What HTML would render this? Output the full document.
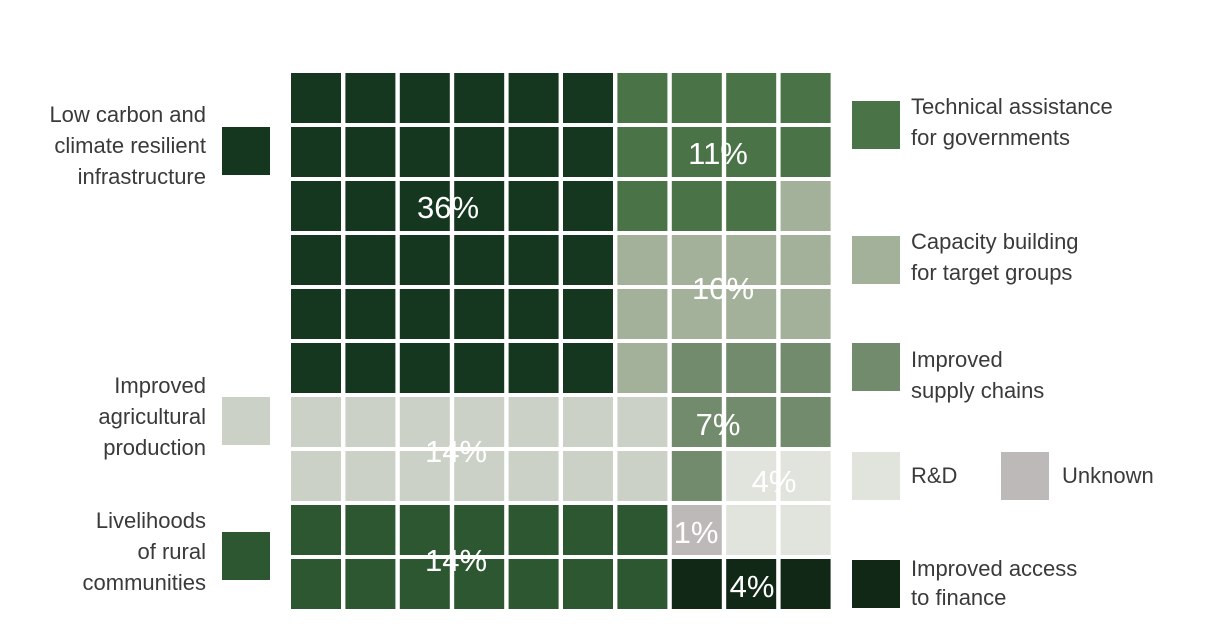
<!DOCTYPE html>
<html><head><meta charset="utf-8">
<style>
body{margin:0;background:#fff;font-family:"Liberation Sans",sans-serif;}
#wrap{position:relative;width:1208px;height:639px;overflow:hidden;}
.t{position:absolute;font-size:22px;line-height:31px;color:#3a3a3a;}
.r{text-align:right;}
.sw{position:absolute;width:48px;height:48px;}
</style></head><body>
<div id="wrap">
<svg id="chart" width="1208" height="639" style="position:absolute;left:0;top:0"></svg>

<div class="t r" style="left:0;width:206px;top:99px">Low carbon and<br>climate resilient<br>infrastructure</div>
<div class="sw" style="left:222px;top:127px;background:#15371f"></div>
<div class="t r" style="left:0;width:206px;top:370px">Improved<br>agricultural<br>production</div>
<div class="sw" style="left:222px;top:397px;background:#cbd1c7"></div>
<div class="t r" style="left:0;width:206px;top:505px">Livelihoods<br>of rural<br>communities</div>
<div class="sw" style="left:222px;top:532px;background:#2d5730"></div>

<div class="sw" style="left:852px;top:101px;background:#4a7347"></div>
<div class="t" style="left:911px;top:91px">Technical assistance<br>for governments</div>
<div class="sw" style="left:852px;top:236px;background:#a3b09a"></div>
<div class="t" style="left:911px;top:226px">Capacity building<br>for target groups</div>
<div class="sw" style="left:852px;top:343px;background:#728b6c"></div>
<div class="t" style="left:911px;top:344px">Improved<br>supply chains</div>
<div class="sw" style="left:852px;top:452px;background:#e1e4dd"></div>
<div class="t" style="left:911px;top:460px">R&amp;D</div>
<div class="sw" style="left:1001px;top:452px;background:#bdb9b9"></div>
<div class="t" style="left:1062px;top:460px">Unknown</div>
<div class="sw" style="left:852px;top:560px;background:#122817"></div>
<div class="t" style="left:911px;top:554px;line-height:29px">Improved access<br>to finance</div>
</div>
<script>
const categories=["infrastructure","technical-assistance","capacity-building","supply-chains","agriculture","rd","unknown","livelihoods","finance"];
const colors=["#15371f","#4a7347","#a3b09a","#728b6c","#cbd1c7","#e1e4dd","#bdb9b9","#2d5730","#122817"];
const gridRows=["0000001111","0000001111","0000001112","0000002222","0000002222","0000002333","4444444333","4444444355","7777777655","7777777888"];
const pctLabels=["36%","11%","10%","7%","14%","4%","1%","14%","4%"];
const labelPos=[[448,207],[718,153],[723,288],[718,424],[456,451],[774,481],[696,532],[456,560],[752,586]];
const svg=document.getElementById('chart');
const NS="http://www.w3.org/2000/svg";
const x0=291,y0=73,pitchX=54.4,pitchY=54,cell=50;
const xs=c=>x0+c*pitchX, ys=r=>y0+r*pitchY;
gridRows.forEach((row,r)=>{[...row].forEach((ch,c)=>{
 const k=+ch;
 const el=document.createElementNS(NS,'rect');
 el.setAttribute('x',xs(c));el.setAttribute('y',ys(r));
 el.setAttribute('width',cell);el.setAttribute('height',cell);
 el.setAttribute('fill',colors[k]);
 
 
 svg.appendChild(el);
});});
pctLabels.forEach((p,i)=>{
 const t=document.createElementNS(NS,'text');
 t.setAttribute('x',labelPos[i][0]);t.setAttribute('y',labelPos[i][1]+11);
 t.setAttribute('text-anchor','middle');t.setAttribute('fill','#fff');
 t.setAttribute('font-size','31');t.setAttribute('font-family','Liberation Sans, sans-serif');
 t.textContent=p;
 
 
 svg.appendChild(t);
});
</script>
</body></html>
